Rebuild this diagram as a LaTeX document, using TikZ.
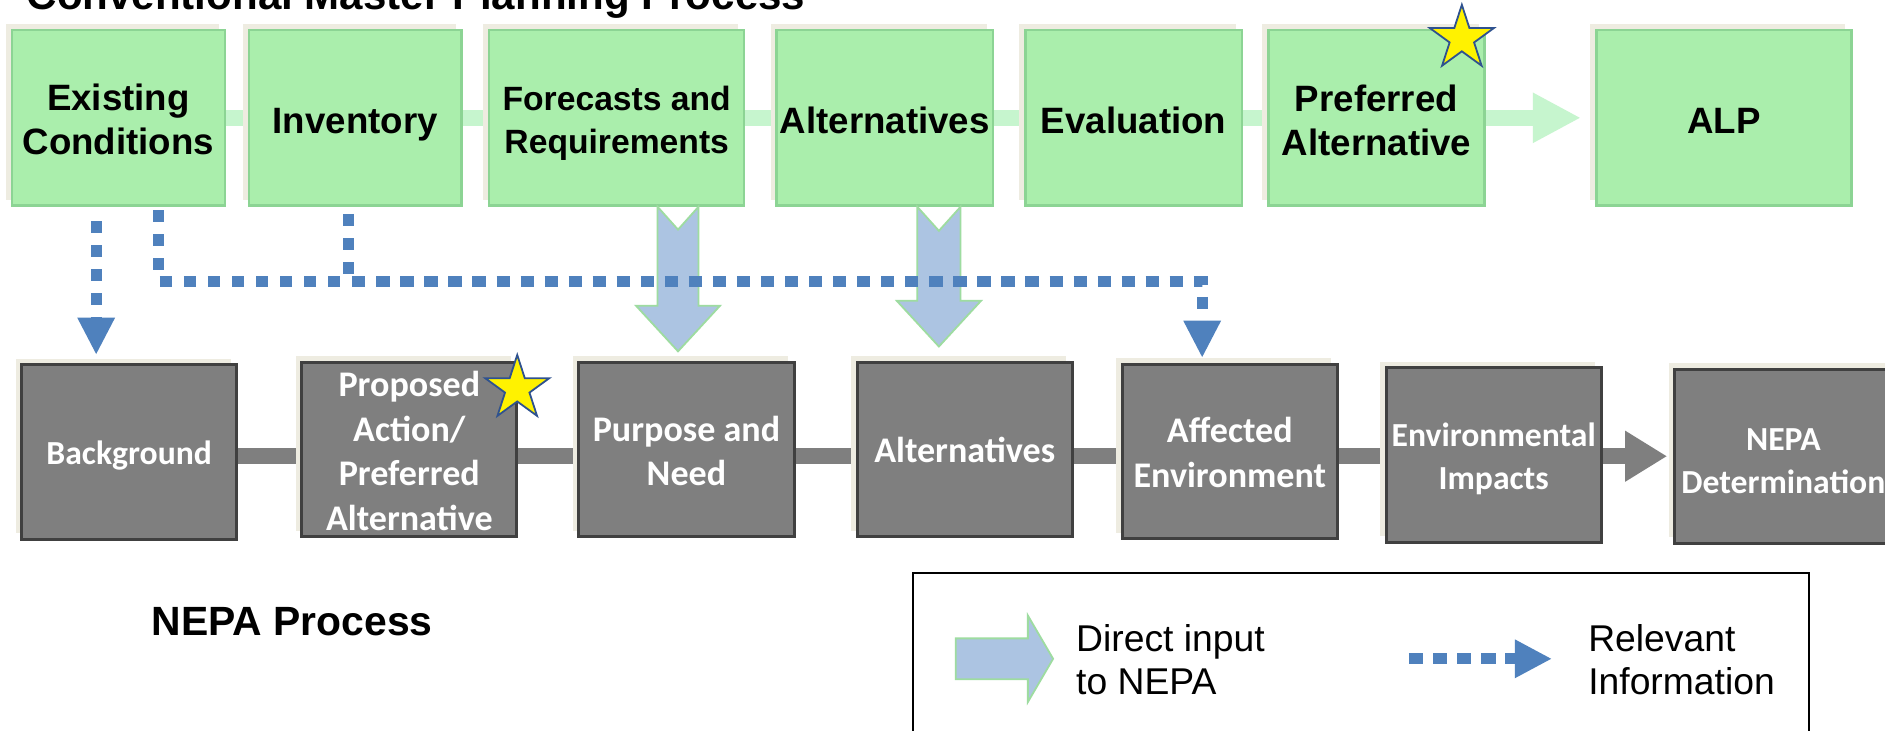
\documentclass[tikz,border=0pt]{standalone}
\usepackage{fontspec}
\setmainfont{Liberation Sans}
\newfontfamily\calib{Carlito}
\usetikzlibrary{arrows.meta,shapes.geometric,shadows,calc}
\definecolor{gfill}{RGB}{170,238,172}
\definecolor{gdraw}{RGB}{140,212,148}
\definecolor{beige}{RGB}{238,236,225}
\definecolor{bandc}{RGB}{198,245,206}
\definecolor{gboxc}{RGB}{127,127,127}
\definecolor{gborder}{RGB}{64,64,64}
\definecolor{bfill}{RGB}{172,196,226}
\definecolor{bdraw}{RGB}{158,220,160}
\definecolor{dotblue}{RGB}{79,129,189}
\definecolor{starline}{RGB}{47,82,143}
\pgfdeclarelayer{background}
\pgfsetlayers{background,main}
\begin{document}
\begin{tikzpicture}[x=1pt,y=-1pt,
  greenbox/.style={rectangle, fill=gfill, draw=gdraw, line width=2pt, inner sep=0pt,
    minimum height=146pt, align=center, font=\fontsize{30.5}{36.5}\selectfont\bfseries,
    general shadow={fill=beige, shadow xshift=-5pt, shadow yshift=5pt}},
  oneline/.style={text height=26pt, text depth=0pt},
  graybox/.style={rectangle, fill=gboxc, draw=gborder, line width=2.5pt, inner sep=0pt,
    minimum height=145pt, minimum width=179pt, align=center, text=white,
    font=\calib\fontsize{30}{37}\selectfont\bfseries,
    general shadow={fill=beige, shadow xshift=-5pt, shadow yshift=5pt}},
  smallgray/.style={font=\calib\fontsize{28}{36}\selectfont\bfseries},
  blockarrow/.style={fill=bfill, draw=bdraw, line width=1.5pt, line join=miter},
  dotline/.style={draw=dotblue, line width=9pt, dash pattern=on 10pt off 10pt},
  dothead/.style={-{Triangle[length=31pt 0 0, width=29pt 0 0]}},
  starnode/.style={star, star points=5, star point ratio=2.618, minimum size=56pt,
    inner sep=0pt, fill=yellow, draw=starline, line width=1.5pt},
  legtext/.style={anchor=west, inner sep=0pt, align=left, font=\fontsize{31}{36}\selectfont},
  bigtitle/.style={anchor=base west, inner sep=0pt, font=\fontsize{35}{42}\selectfont\bfseries}
]
\useasboundingbox (0,0) rectangle (1568,608);
\begin{pgfonlayer}{background}
\fill[white] (0,0) rectangle (1568,608);
\end{pgfonlayer}

% title (cut by the top edge)
\node[bigtitle] (title) at (22,8) {Conventional Master Planning Process};

% top row
\node[greenbox, minimum width=177pt] (ec) at (98.5,98) {\rule{0pt}{24pt}Existing\\Conditions};
\node[greenbox, oneline, minimum width=177pt] (inv) at (295.5,98) {Inventory};
\node[greenbox, minimum width=212pt, font=\fontsize{28}{36}\selectfont\bfseries] (fr) at (513,98) {\rule{0pt}{29pt}Forecasts and\\Requirements};
\node[greenbox, oneline, minimum width=180pt] (alt) at (736,98) {Alternatives};
\node[greenbox, oneline, minimum width=180pt] (eva) at (943,98) {Evaluation};
\node[greenbox, minimum width=180pt] (pref) at (1145,98) {\rule{0pt}{27pt}Preferred\\Alternative};
\node[greenbox, oneline, minimum width=212pt] (alp) at (1434,98) {ALP};

% bottom row
\node[graybox, smallgray, text height=20pt, text depth=0pt] (bg) at (107.5,376) {Background};
\node[graybox] (pa) at (340.5,374) {\rule{0pt}{23pt}Proposed\\Action/\\Preferred\\Alternative};
\node[graybox] (pn) at (571,374) {\rule{0pt}{23pt}Purpose and\\Need};
\node[graybox, text height=21pt, text depth=0pt] (alt2) at (802.5,374) {Alternatives};
\node[graybox] (ae) at (1023,375.5) {\rule{0pt}{23pt}Affected\\Environment};
\node[graybox, smallgray] (ei) at (1242.5,378.5) {\rule{0pt}{26pt}Environmental\\Impacts};
\node[graybox, smallgray, minimum width=181pt] (nd) at (1483.5,379.5) {\rule{0pt}{26pt}NEPA\\Determination};

% process connectors behind the boxes
\begin{pgfonlayer}{background}
\draw[bandc, line width=13pt, -{Triangle[length=40pt 0 0, width=39pt 0 0]}, shorten >=12pt] (ec.center) -- (alp.west);
\draw[gboxc, line width=13pt, -{Triangle[length=35pt 0 0, width=40pt 0 0]}, shorten >=5pt] (bg.center |- nd.west) -- (nd.west);
\end{pgfonlayer}

% direct input block arrows
\coordinate (b1) at ($(fr.south)+(51,0)$);
\coordinate (b1t) at (b1 |- pn.north);
\draw[blockarrow] ($(b1)+(-17,0)$) -- ($(b1)+(0,19)$) -- ($(b1)+(17,0)$) -- ($(b1t)+(17,-46)$)
  -- ($(b1t)+(35,-46)$) -- ($(b1t)+(0,-8)$) -- ($(b1t)+(-35,-46)$) -- ($(b1t)+(-17,-46)$) -- cycle;
\coordinate (b2) at ($(alt.south)+(45,0)$);
\coordinate (b2t) at (b2 |- alt2.north);
\draw[blockarrow] ($(b2)+(-18,0)$) -- ($(b2)+(0,20)$) -- ($(b2)+(18,0)$) -- ($(b2t)+(18,-50)$)
  -- ($(b2t)+(35,-50)$) -- ($(b2t)+(0,-12)$) -- ($(b2t)+(-35,-50)$) -- ($(b2t)+(-18,-50)$) -- cycle;

% relevant information dotted arrows
\coordinate (d1) at ($(ec.south)+(-18.5,12)$);
\draw[dotline, dothead, shorten >=7pt] (d1) -- (d1 |- bg.north);
\coordinate (d2) at ($(ec.south)+(33.5,3)$);
\coordinate (d2c) at ($(d2)+(0,59)$);
\coordinate (d2e) at ($(ae.north)+(-23,0)$);
\coordinate (d3) at ($(inv.south)+(-5.5,6)$);
\draw[dotline] (d3) |- (d2e |- d2c);
\draw[dotline, dothead, shorten >=4pt] (d2) -- (d2c) -| (d2e);

% stars
\node[starnode] (star1) at ($(pref.north east)+(-20,8)$) {};
\node[starnode] (star2) at ($(pa.north east)+(-1,23)$) {};

% NEPA label
\node[bigtitle, font=\fontsize{34}{40}\selectfont\bfseries] (np) at (126,529) {NEPA Process};

% legend
\node[draw=black, line width=1.5pt, minimum width=745pt, minimum height=200pt, anchor=north west, inner sep=0pt] (legend) at (759,476) {};
\coordinate (la) at ($(legend.north west)+(36,72)$);
\draw[blockarrow] ($(la)+(0,-17)$) -- ($(la)+(60,-17)$) -- ($(la)+(60,-36)$) -- ($(la)+(81,0)$)
  -- ($(la)+(60,36)$) -- ($(la)+(60,17)$) -- ($(la)+(0,17)$) -- cycle;
\node[legtext] (lt1) at ($(legend.north west)+(136,73)$) {Direct input\\to NEPA};
\coordinate (lds) at ($(legend.north west)+(413,72)$);
\coordinate (lde) at ($(lds)+(119,0)$);
\draw[dotline, dash pattern=on 12pt off 8pt, -{Triangle[length=31pt 0 0, width=30pt 0 0]}] (lds) -- (lde);
\node[legtext] (lt2) at ($(legend.north west)+(562,73)$) {Relevant\\Information};
\end{tikzpicture}
\end{document}
